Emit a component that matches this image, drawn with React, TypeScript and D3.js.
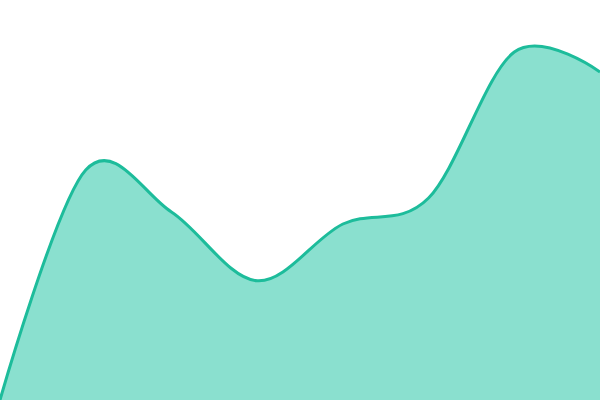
import * as d3 from "d3";
import { useEffect, useRef } from "react";

// evenly spaced samples, values on a 0-100 scale
const steps = [0, 1, 2, 3, 4, 5, 6, 7];
const values = [0, 57.5, 47, 29.8, 44, 50.5, 87, 82];

const width = 600, height = 400;

export default function App() {
  const ref = useRef<SVGSVGElement>(null);

  useEffect(() => {
    const svg = d3.select(ref.current);
    const data = steps.map((s, i) => ({ s, v: values[i] }));

    const x = d3.scaleLinear().domain([0, steps.length - 1]).range([0, width]);
    const y = d3.scaleLinear().domain([0, 100]).range([height, 0]);

    const area = d3.area<{ s: number; v: number }>()
      .x(d => x(d.s))
      .y0(height)
      .y1(d => y(d.v))
      .curve(d3.curveCardinal);

    const line = d3.line<{ s: number; v: number }>()
      .x(d => x(d.s))
      .y(d => y(d.v))
      .curve(d3.curveCardinal);

    svg.selectAll(".area").data([data]).join("path")
      .attr("class", "area")
      .attr("d", area)
      .attr("fill", "#8ae0cf");

    svg.selectAll(".line").data([data]).join("path")
      .attr("class", "line")
      .attr("d", line)
      .attr("fill", "none")
      .attr("stroke", "#1dbc9b")
      .attr("stroke-width", 3);
  }, []);

  return (
    <svg
      ref={ref}
      width={width}
      height={height}
      style={{ position: "fixed", top: 0, left: 0, background: "#fff" }}
    ></svg>
  );
}
